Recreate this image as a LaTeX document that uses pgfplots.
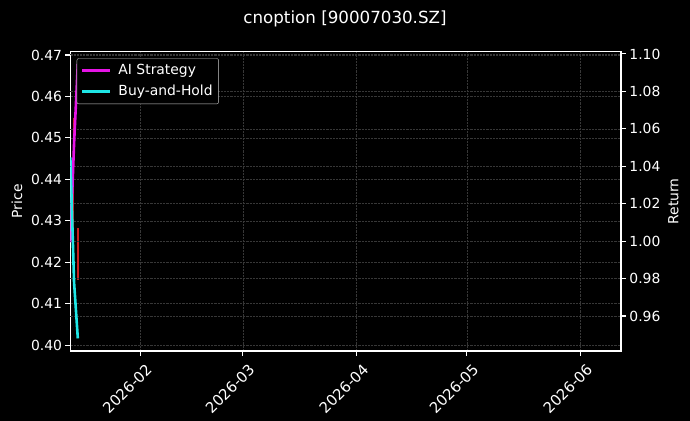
\documentclass[border=0pt]{standalone}
\usepackage{fontspec}
\setmainfont{DejaVu Sans}
\usepackage{pgfplots}
\pgfplotsset{compat=1.18}

\definecolor{aimag}{RGB}{230,20,230}
\definecolor{bhcyan}{RGB}{30,230,230}
\definecolor{pricered}{RGB}{200,30,30}
\definecolor{gridgray}{RGB}{55,55,55}

\newcommand\mpl{\fontsize{13.9bp}{16bp}\selectfont}

\pgfplotsset{
  darkax/.style={
    scale only axis, width=550.6bp, height=299.3bp,
    at={(70.4bp,70bp)}, anchor=south west,
    xmin=12, xmax=162,
    axis line style={white, line width=1.1bp},
    tick style={white, line width=1.1bp},
    tick align=outside, major tick length=4.9bp,
    ticklabel style={font=\mpl, text=white},
    label style={font=\mpl, text=white},
    /pgf/number format/assume math mode=true,
    grid style={gridgray, line width=0.6bp, dash pattern=on 2.2bp off 1bp},
  }
}

\begin{document}
\begin{tikzpicture}
\fill[black] (0,0) rectangle (690bp,421bp);
\path[use as bounding box] (0,0) rectangle (690bp,421bp);
\node[font=\fontsize{16.7bp}{20bp}\selectfont, text=white] at (345bp,402.5bp) {cnoption [90007030.SZ]};

% price axis (left)
\begin{axis}[darkax,
  ymin=0.3986, ymax=0.4708,
  xtick={31,59,90,120,151},
  xticklabels={2026-02,2026-03,2026-04,2026-05,2026-06},
  xtick pos=bottom, ytick pos=left,
  ytick={0.40,0.41,0.42,0.43,0.44,0.45,0.46,0.47},
  yticklabel style={/pgf/number format/.cd, fixed, fixed zerofill, precision=2},
  xticklabel style={font=\fontsize{14.8bp}{17bp}\selectfont, rotate=45, anchor=north east, yshift=-5bp, xshift=2bp},
  xmajorgrids, ymajorgrids,
  ylabel={Price},
  ylabel style={at={(axis description cs:-0.097,0.5)}, anchor=center},
]
\addplot[pricered, line width=1.8bp] coordinates {(12.85,0.4548) (12.85,0.4174)};
\addplot[pricered, line width=1.8bp] coordinates {(14.05,0.4282) (14.05,0.4157)};
\end{axis}

% return axis (right)
\begin{axis}[darkax,
  ymin=0.9413, ymax=1.1012,
  hide x axis,
  axis y line*=right, ytick pos=right,
  ytick={0.96,0.98,1.00,1.02,1.04,1.06,1.08,1.10},
  yticklabel style={/pgf/number format/.cd, fixed, fixed zerofill, precision=2},
  ymajorgrids,
  ylabel={Return},
  ylabel style={at={(axis description cs:1.095,0.5)}, anchor=center},
  legend style={at={(0.0114,0.978)}, anchor=north west, fill=black,
    draw=white!80!black, rounded corners=2bp, text=white,
    font=\mpl, inner xsep=4bp, inner ysep=3.4bp, row sep=3.6bp,
    nodes={inner sep=2bp, text height=10.5bp, text depth=3bp}},
  legend cell align=left,
  legend image post style={line width=2.6bp},
  legend image code/.code={\draw[#1, line cap=butt] (0bp,0bp) -- (28bp,0bp); \path (33bp,0bp);},
]
\addplot[aimag, line width=2.6bp, line cap=rect, line join=round] coordinates {(12,1.000) (13,1.052) (14,1.094)};
\addlegendentry{AI Strategy}
\addplot[bhcyan, line width=2.6bp, line cap=rect, line join=round] coordinates {(12,1.044) (13,0.978) (14,0.9487)};
\addlegendentry{Buy-and-Hold}
\end{axis}
\end{tikzpicture}
\end{document}
